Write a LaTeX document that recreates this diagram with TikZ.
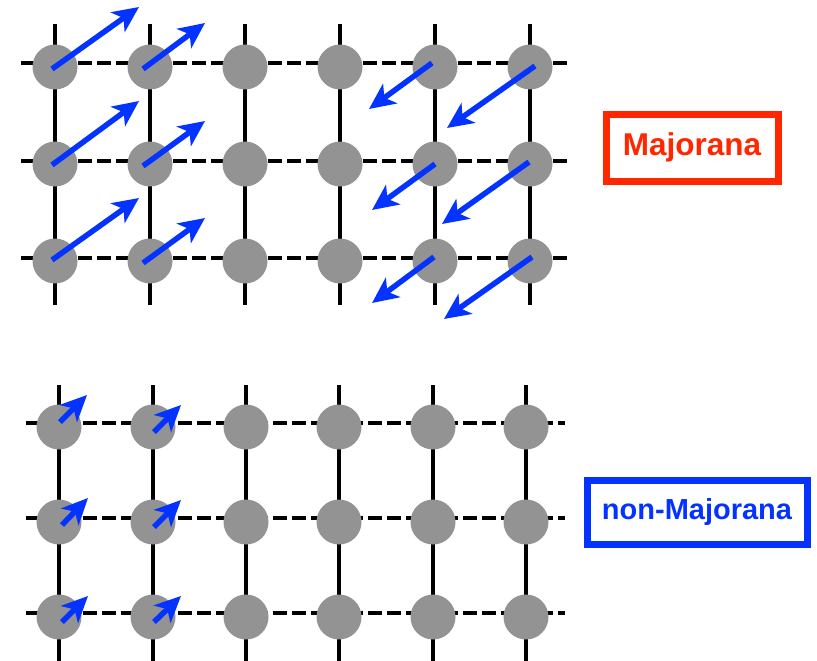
\documentclass[tikz,border=0pt]{standalone}
\usepackage{fontspec}
\setmainfont{Liberation Sans}
\usetikzlibrary{arrows.meta}
\definecolor{sitegray}{HTML}{939393}
\definecolor{spinblue}{HTML}{0433FF}
\definecolor{majred}{HTML}{FF2600}
\begin{document}
\begin{tikzpicture}[x=1pt,y=-1pt,
  site/.style={circle,fill=sitegray,minimum size=45pt,inner sep=0pt},
  bond/.style={line width=4.5pt},
  hbond/.style={line width=4.5pt,dash pattern=on 13.5pt off 5.5pt},
  spin/.style={spinblue,line width=5.5pt,-{Stealth[length=26pt,width=24pt,inset=7pt]}},
  tag/.style={draw,line width=7pt,font=\bfseries,inner sep=0pt}]
\useasboundingbox (0,0) rectangle (817,661);

% ---------- top lattice ----------
\foreach \x [count=\c] in {55,150,245,340,435,530}{
  \coordinate (tv\c a) at (\x,24);
  \coordinate (tv\c b) at (\x,305);
  \draw[bond] (tv\c a) -- (tv\c b);
}
\foreach \y [count=\r] in {63,161,258}{
  \coordinate (th\r a) at (21,\y);
  \coordinate (th\r b) at (570,\y);
  \draw[hbond] (th\r a) -- (th\r b);
}
\foreach \y [count=\r] in {67,164,261}{
  \foreach \x [count=\c] in {55,150,245,340,435,530}{
    \node[site] (t-\r-\c) at (\x,\y) {};
  }
}
% spins, up-right
\coordinate (a11) at (52,69);   \coordinate (b11) at (139,7);
\coordinate (a12) at (143,69);  \coordinate (b12) at (205,23);
\coordinate (a21) at (52,165);  \coordinate (b21) at (139,101);
\coordinate (a22) at (143,166); \coordinate (b22) at (205,121);
\coordinate (a31) at (52,260);  \coordinate (b31) at (139,198);
\coordinate (a32) at (143,263); \coordinate (b32) at (205,218);
% spins, down-left
\coordinate (a15) at (432,63);  \coordinate (b15) at (369,109);
\coordinate (a16) at (535,66);  \coordinate (b16) at (447,128);
\coordinate (a25) at (435,164); \coordinate (b25) at (372,210);
\coordinate (a26) at (529,162); \coordinate (b26) at (442,224);
\coordinate (a35) at (434,257); \coordinate (b35) at (372,303);
\coordinate (a36) at (532,257); \coordinate (b36) at (444,319);
\foreach \s in {11,12,21,22,31,32,15,16,25,26,35,36}{
  \draw[spin] (a\s) -- (b\s);
}

% ---------- bottom lattice ----------
\foreach \x [count=\c] in {59,153,246,339,433,526}{
  \coordinate (bv\c a) at (\x,385);
  \coordinate (bv\c b) at (\x,661);
  \draw[bond] (bv\c a) -- (bv\c b);
}
\foreach \y [count=\r] in {423,518,613}{
  \coordinate (bh\r a) at (26,\y);
  \coordinate (bh\r b) at (565,\y);
  \draw[hbond] (bh\r a) -- (bh\r b);
}
\foreach \y [count=\r] in {427,522,617}{
  \foreach \x [count=\c] in {59,153,246,339,433,526}{
    \node[site] (s-\r-\c) at (\x,\y) {};
  }
}
\coordinate (c11) at (60,422);  \coordinate (d11) at (87,395);
\coordinate (c12) at (154,432); \coordinate (d12) at (181,405);
\coordinate (c21) at (62,525);  \coordinate (d21) at (88,498);
\coordinate (c22) at (154,527); \coordinate (d22) at (181,500);
\coordinate (c31) at (62,622);  \coordinate (d31) at (88,596);
\coordinate (c32) at (154,622); \coordinate (d32) at (181,596);
\foreach \s in {11,12,21,22,31,32}{
  \draw[spin] (c\s) -- (d\s);
}

% ---------- labels ----------
\node[tag,majred,minimum width=172pt,minimum height=67pt,
      font=\fontsize{31.5}{36}\selectfont\bfseries] (maj) at (692,147.5) {Majorana};
\node[tag,spinblue,minimum width=220pt,minimum height=64pt,
      font=\fontsize{29}{34}\selectfont\bfseries] (nonmaj) at (697,512) {non-Majorana};
\end{tikzpicture}
\end{document}
